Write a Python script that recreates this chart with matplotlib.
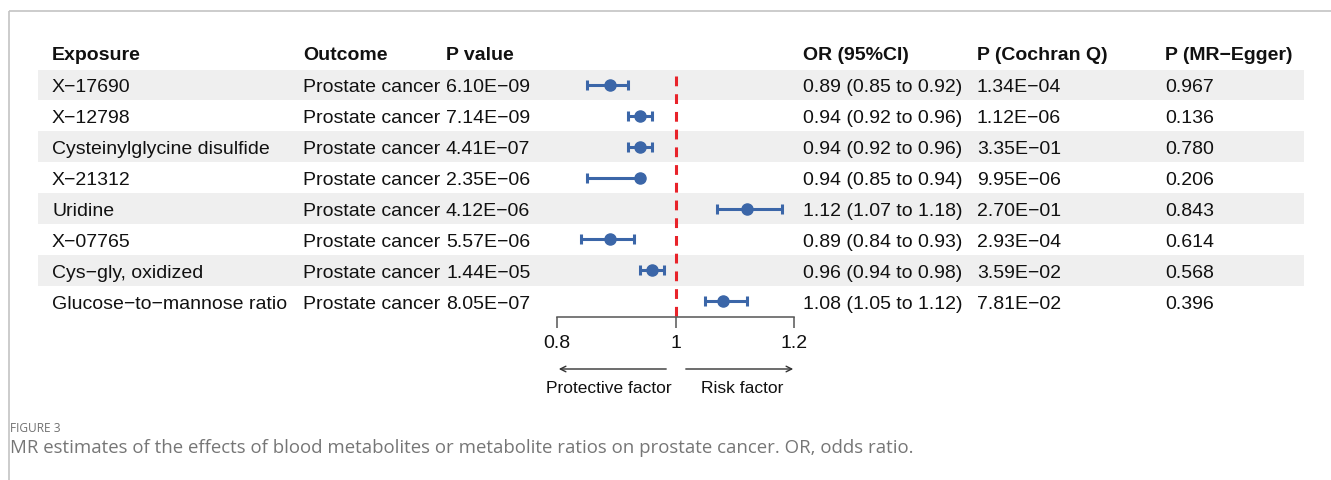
import matplotlib
matplotlib.use("Agg")
import matplotlib.pyplot as plt
from matplotlib.patches import Rectangle

# ---------------- data ----------------
exposures = ["X\u221217690", "X\u221212798", "Cysteinylglycine disulfide", "X\u221221312",
             "Uridine", "X\u221207765", "Cys\u2212gly, oxidized", "Glucose\u2212to\u2212mannose ratio"]
outcomes = ["Prostate cancer"] * 8
p_values = ["6.10E\u221209", "7.14E\u221209", "4.41E\u221207", "2.35E\u221206",
            "4.12E\u221206", "5.57E\u221206", "1.44E\u221205", "8.05E\u221207"]
or_est = [0.89, 0.94, 0.94, 0.94, 1.12, 0.89, 0.96, 1.08]
or_low = [0.85, 0.92, 0.92, 0.85, 1.07, 0.84, 0.94, 1.05]
or_high = [0.92, 0.96, 0.96, 0.94, 1.18, 0.93, 0.98, 1.12]
p_cochran = ["1.34E\u221204", "1.12E\u221206", "3.35E\u221201", "9.95E\u221206",
             "2.70E\u221201", "2.93E\u221204", "3.59E\u221202", "7.81E\u221202"]
p_egger = ["0.967", "0.136", "0.780", "0.206", "0.843", "0.614", "0.568", "0.396"]
headers = ["Exposure", "Outcome", "P value", "OR (95%CI)", "P (Cochran Q)", "P (MR\u2212Egger)"]
x_ticks = [0.8, 1.0, 1.2]
x_tick_labels = ["0.8", "1", "1.2"]

# ---------------- layout ----------------
W, H = 1331, 481
fig = plt.figure(figsize=(W / 100, H / 100), dpi=100)
base = fig.add_axes([0, 0, 1, 1])
base.set_xlim(0, W)
base.set_ylim(H, 0)
base.axis("off")

FONT = "Liberation Sans"
FS = 14.0
row_y0 = 86.0
row_h = 30.9
text_dy = 2.0
col_x = [52, 303, 446, 803, 977, 1165]
header_y = 54

# frame lines
base.plot([9, W], [12, 12], color="#c4c4c4", lw=1.2, solid_capstyle="butt")
base.plot([9, 9], [12, H], color="#c4c4c4", lw=1.2, solid_capstyle="butt")

# row shading
for i in range(len(exposures)):
    yc = row_y0 + i * row_h
    if i % 2 == 0:
        base.add_patch(Rectangle((38, yc - row_h / 2), 1304 - 38, row_h,
                                 facecolor="#efefef", edgecolor="none", zorder=0))

# headers
for x, h in zip(col_x, headers):
    base.text(x, header_y + text_dy, h, fontsize=FS, fontweight="bold", family=FONT,
              va="center", ha="left", color="#111111")

# table rows
for i in range(len(exposures)):
    yc = row_y0 + i * row_h + text_dy
    or_text = f"{or_est[i]:.2f} ({or_low[i]:.2f} to {or_high[i]:.2f})"
    cells = [exposures[i], outcomes[i], p_values[i], or_text, p_cochran[i], p_egger[i]]
    for x, c in zip(col_x, cells):
        base.text(x, yc, c, fontsize=FS, family=FONT, va="center", ha="left",
                  color="#111111")

# ---------------- forest axes ----------------
x_left_px, x_right_px = 557, 794
top_px, bottom_px = 70, 318
ax = fig.add_axes([x_left_px / W, 1 - bottom_px / H,
                   (x_right_px - x_left_px) / W, (bottom_px - top_px) / H])
ax.patch.set_alpha(0)
ax.set_xlim(0.8, 1.2)
ax.set_ylim((bottom_px - row_y0) / row_h, (top_px - row_y0) / row_h)
for s in ["top", "right", "left"]:
    ax.spines[s].set_visible(False)
ax.spines["bottom"].set_color("#555555")
ax.spines["bottom"].set_linewidth(1.1)
ax.set_yticks([])
ax.set_xticks(x_ticks)
ax.set_xticklabels(x_tick_labels, fontsize=FS, family=FONT, color="#111111")
ax.tick_params(axis="x", direction="out", length=8, width=1.1, color="#555555", pad=4.5)

ypos = list(range(len(or_est)))
ax.plot([1, 1], [(77 - row_y0) / row_h, (bottom_px - row_y0) / row_h],
        color="#e8232a", lw=2.2, dashes=(3.2, 2.6), clip_on=False, zorder=1)
err_lo = [o - l for o, l in zip(or_est, or_low)]
err_hi = [h - o for o, h in zip(or_est, or_high)]
ax.errorbar(or_est, ypos, xerr=[err_lo, err_hi], fmt="o", color="#3b66a8",
            ecolor="#3b66a8", elinewidth=2.2, capsize=3.4, capthick=2.2,
            markersize=8, clip_on=False, zorder=3)

# arrows and labels
base.annotate("", xy=(556, 370), xytext=(669, 370),
              arrowprops=dict(arrowstyle="->", color="#333333", lw=1.0))
base.annotate("", xy=(796, 370), xytext=(683, 370),
              arrowprops=dict(arrowstyle="->", color="#333333", lw=1.0))
base.text(609, 389, "Protective factor", fontsize=12.5, family=FONT,
          ha="center", va="center", color="#111111")
base.text(742, 389, "Risk factor", fontsize=12.5, family=FONT,
          ha="center", va="center", color="#111111")

# caption
base.text(10, 429, "FIGURE 3", fontsize=8.6, family="Open Sans", color="#707070",
          ha="left", va="center")
base.text(10, 448, "MR estimates of the effects of blood metabolites or metabolite ratios "
          "on prostate cancer. OR, odds ratio.", fontsize=13.4, family="Open Sans",
          color="#767676", ha="left", va="center")

fig.savefig("out.png", dpi=100)
